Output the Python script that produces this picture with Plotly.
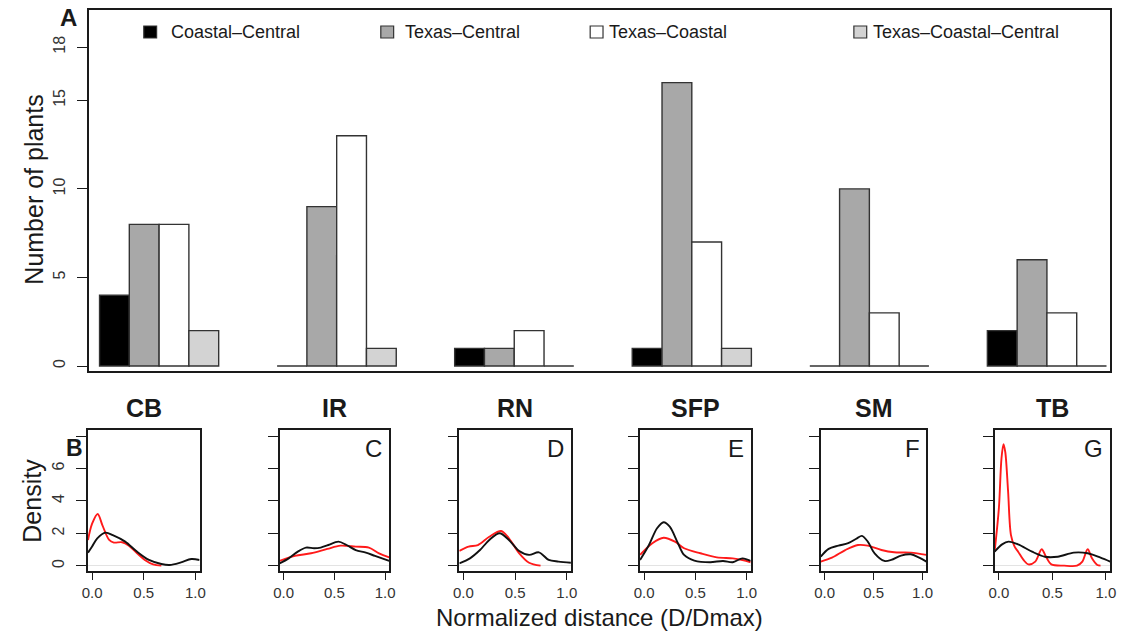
import plotly.graph_objects as go

W, H = 1129, 632
FONT = "Liberation Sans, Arial, sans-serif"
INK = "#1a1a1a"

# ---------------- data ----------------
SITES = ["CB", "IR", "RN", "SFP", "SM", "TB"]
PANEL_LETTERS = ["B", "C", "D", "E", "F", "G"]
SERIES = ["Coastal–Central", "Texas–Central", "Texas–Coastal", "Texas–Coastal–Central"]
SERIES_COLORS = ["#000000", "#a8a8a8", "#ffffff", "#d3d3d3"]

COASTAL_CENTRAL = [4, 0, 1, 1, 0, 2]
TEXAS_CENTRAL = [8, 9, 1, 16, 10, 6]
TEXAS_COASTAL = [8, 13, 2, 7, 3, 3]
TEXAS_COASTAL_CENTRAL = [2, 1, 0, 1, 0, 0]

TOP_Y_TICKS = [0, 5, 10, 15, 18]
DENS_Y_TICKS = [0, 2, 4, 6, 8]
DENS_Y_LABELS = ["0", "2", "4", "6", ""]
DENS_X_TICKS = [0, 0.5, 1.0]
DENS_X_LABELS = ["0.0", "0.5", "1.0"]

# density curves (black = all, red = subset)
CB_BLACK_X = [-0.04, 0.0, 0.05, 0.13, 0.2, 0.32, 0.43, 0.55, 0.67, 0.75, 0.86, 0.96, 1.04]
CB_BLACK_Y = [0.82, 1.2, 1.7, 2.05, 1.9, 1.5, 0.9, 0.37, 0.12, 0.06, 0.22, 0.43, 0.37]
CB_RED_X = [-0.04, 0.0, 0.054, 0.1, 0.165, 0.21, 0.29, 0.356, 0.435, 0.51, 0.59, 0.67]
CB_RED_Y = [1.6, 2.6, 3.2, 2.5, 1.6, 1.44, 1.46, 1.25, 0.78, 0.37, 0.1, 0.02]

IR_BLACK_X = [-0.04, 0.05, 0.14, 0.22, 0.3, 0.365, 0.44, 0.54, 0.62, 0.71, 0.81, 0.9, 1.04]
IR_BLACK_Y = [0.16, 0.47, 0.88, 1.13, 1.09, 1.13, 1.29, 1.5, 1.29, 0.98, 0.82, 0.62, 0.31]
IR_RED_X = [-0.04, 0.11, 0.27, 0.43, 0.56, 0.71, 0.84, 0.94, 1.04]
IR_RED_Y = [0.31, 0.62, 0.78, 1.05, 1.25, 1.19, 1.13, 0.78, 0.53]

RN_BLACK_X = [-0.04, 0.063, 0.16, 0.25, 0.35, 0.44, 0.54, 0.635, 0.73, 0.825, 0.92, 1.04]
RN_BLACK_Y = [0.16, 0.47, 0.98, 1.6, 2.01, 1.6, 0.92, 0.68, 0.84, 0.37, 0.27, 0.2]
RN_RED_X = [-0.04, 0.05, 0.14, 0.25, 0.365, 0.44, 0.54, 0.635, 0.746]
RN_RED_Y = [0.92, 1.19, 1.29, 1.8, 2.15, 1.7, 0.78, 0.2, 0.02]

SFP_BLACK_X = [-0.04, 0.047, 0.126, 0.19, 0.25, 0.33, 0.39, 0.49, 0.645, 0.77, 0.865, 0.96, 1.04]
SFP_BLACK_Y = [0.37, 1.29, 2.32, 2.69, 2.42, 1.4, 0.68, 0.33, 0.23, 0.31, 0.23, 0.47, 0.31]
SFP_RED_X = [-0.04, 0.08, 0.19, 0.3, 0.39, 0.55, 0.71, 0.865, 0.96, 1.04]
SFP_RED_Y = [0.68, 1.4, 1.74, 1.5, 1.09, 0.78, 0.53, 0.47, 0.37, 0.23]

SM_BLACK_X = [-0.04, 0.04, 0.14, 0.24, 0.33, 0.38, 0.44, 0.51, 0.61, 0.68, 0.78, 0.88, 0.966, 1.04]
SM_BLACK_Y = [0.57, 1.05, 1.25, 1.4, 1.7, 1.85, 1.5, 0.78, 0.31, 0.37, 0.64, 0.72, 0.51, 0.27]
SM_RED_X = [-0.04, 0.074, 0.21, 0.34, 0.44, 0.58, 0.71, 0.88, 1.04]
SM_RED_Y = [0.27, 0.51, 0.98, 1.29, 1.25, 0.98, 0.84, 0.82, 0.68]

TB_BLACK_X = [-0.04, 0.03, 0.09, 0.18, 0.31, 0.43, 0.55, 0.7, 0.83, 0.95, 1.04]
TB_BLACK_Y = [0.88, 1.33, 1.5, 1.33, 0.88, 0.57, 0.57, 0.82, 0.78, 0.51, 0.27]
TB_RED_X = [-0.04, 0.0, 0.024, 0.043, 0.06, 0.086, 0.113, 0.147, 0.18, 0.23, 0.275,
            0.34, 0.4, 0.44, 0.49, 0.61, 0.73, 0.78, 0.83, 0.87, 0.92, 0.95]
TB_RED_Y = [0.88, 3.55, 6.6, 7.5, 7.0, 4.6, 1.9, 1.19, 0.88, 0.37, 0.1,
            0.27, 1.03, 0.57, 0.1, 0.02, 0.02, 0.27, 1.03, 0.47, 0.06, 0.02]

BLACK_CURVES = [(CB_BLACK_X, CB_BLACK_Y), (IR_BLACK_X, IR_BLACK_Y), (RN_BLACK_X, RN_BLACK_Y),
                (SFP_BLACK_X, SFP_BLACK_Y), (SM_BLACK_X, SM_BLACK_Y), (TB_BLACK_X, TB_BLACK_Y)]
RED_CURVES = [(CB_RED_X, CB_RED_Y), (IR_RED_X, IR_RED_Y), (RN_RED_X, RN_RED_Y),
              (SFP_RED_X, SFP_RED_Y), (SM_RED_X, SM_RED_Y), (TB_RED_X, TB_RED_Y)]

# ---------------- layout helpers (pixel -> paper) ----------------
def px(x):
    return x / W


def py(y):
    return 1 - y / H


TOP_BOX = (83, 10, 1117, 371)  # left, top, right, bottom (px)
PANEL_BOXES = [(82, 195), (276, 387), (458, 571), (641, 753), (824, 931), (1000, 1117)]
PANEL_TOP, PANEL_BOTTOM = 430, 571

fig = go.Figure()

bar_values = [COASTAL_CENTRAL, TEXAS_CENTRAL, TEXAS_COASTAL, TEXAS_COASTAL_CENTRAL]
for name, vals, col in zip(SERIES, bar_values, SERIES_COLORS):
    fig.add_trace(go.Bar(
        x=SITES, y=vals, name=name, xaxis="x", yaxis="y",
        marker=dict(color=col, line=dict(color="#333333", width=1.4)),
        showlegend=False, hoverinfo="x+y+name",
    ))

axis_common = dict(showline=True, mirror=True, linecolor=INK, linewidth=1.5,
                   showgrid=False, zeroline=False)

layout = dict(
    width=W, height=H, autosize=False,
    margin=dict(l=0, r=0, t=0, b=0),
    paper_bgcolor="white", plot_bgcolor="white",
    barmode="group", bargap=0.329, bargroupgap=0,
    font=dict(family=FONT, color=INK),
    showlegend=False,
    xaxis=dict(domain=[px(TOP_BOX[0]), px(TOP_BOX[2])], anchor="y", type="category",
               range=[-0.395, 5.356], showticklabels=False, ticks="", **axis_common),
    yaxis=dict(domain=[py(TOP_BOX[3]), py(TOP_BOX[1])], anchor="x",
               range=[-0.28, 20.1], tickvals=TOP_Y_TICKS, ticks="outside", ticklen=10,
               tickwidth=1.3, tickcolor=INK, tickangle=-90,
               tickfont=dict(size=16, color="#333333"), ticklabelstandoff=6,
               **axis_common),
)

for i, site in enumerate(SITES):
    k = i + 2
    xl, xr = PANEL_BOXES[i]
    layout[f"xaxis{k}"] = dict(
        domain=[px(xl), px(xr)], anchor=f"y{k}", range=[-0.04, 1.04],
        tickvals=DENS_X_TICKS, ticktext=DENS_X_LABELS, ticks="outside", ticklen=7,
        tickwidth=1.3, tickcolor=INK, tickfont=dict(size=15, color="#333333"),
        **axis_common)
    layout[f"yaxis{k}"] = dict(
        domain=[py(PANEL_BOTTOM), py(PANEL_TOP)], anchor=f"x{k}", range=[-0.31, 8.37],
        tickvals=DENS_Y_TICKS, ticktext=DENS_Y_LABELS, ticks="outside", ticklen=10,
        tickwidth=1.3, tickcolor=INK, tickangle=-90, showticklabels=(i == 0),
        tickfont=dict(size=16, color="#333333"), ticklabelstandoff=6,
        showline=True, mirror=True, linecolor=INK, linewidth=1.5, showgrid=False,
        zeroline=True, zerolinecolor="#e3e3e3", zerolinewidth=1.2)
    bx, by = RED_CURVES[i]
    fig.add_trace(go.Scatter(x=bx, y=by, mode="lines", xaxis=f"x{k}", yaxis=f"y{k}",
                             line=dict(color="#ff1a1a", width=1.9, shape="spline", smoothing=0.9),
                             showlegend=False, name=f"{site} subset"))
    kx, ky = BLACK_CURVES[i]
    fig.add_trace(go.Scatter(x=kx, y=ky, mode="lines", xaxis=f"x{k}", yaxis=f"y{k}",
                             line=dict(color="#111111", width=1.9, shape="spline", smoothing=0.9),
                             showlegend=False, name=f"{site} all"))

fig.update_layout(**layout)

annotations = []
shapes = []

# manual legend (inside top panel)
LEG_SQ = [145, 385, 597, 864]
LEG_TX = [164, 401, 608, 875]
for name, col, sq, tx in zip(SERIES, SERIES_COLORS, LEG_SQ, LEG_TX):
    shapes.append(dict(type="rect", xref="paper", yref="paper",
                       x0=px(sq - 6.5), x1=px(sq + 6.5), y0=py(38), y1=py(26),
                       fillcolor=col, line=dict(color="#333333", width=1.2)))
    annotations.append(dict(text=name, xref="paper", yref="paper", x=px(tx), y=py(32),
                            xanchor="left", yanchor="middle", showarrow=False,
                            font=dict(size=18, color=INK)))

# panel letter A
annotations.append(dict(text="<b>A</b>", xref="paper", yref="paper", x=px(62), y=py(17),
                        xanchor="center", yanchor="middle", showarrow=False,
                        font=dict(size=24, color=INK)))

# axis titles
annotations.append(dict(text="Number of plants", xref="paper", yref="paper", x=px(27), y=py(190),
                        textangle=-90, xanchor="center", yanchor="middle", showarrow=False,
                        font=dict(size=25, color=INK)))
annotations.append(dict(text="Density", xref="paper", yref="paper", x=px(25), y=py(501),
                        textangle=-90, xanchor="center", yanchor="middle", showarrow=False,
                        font=dict(size=25, color=INK)))
annotations.append(dict(text="Normalized distance (D/Dmax)", xref="paper", yref="paper",
                        x=px(600), y=py(617), xanchor="center", yanchor="middle",
                        showarrow=False, font=dict(size=24, color=INK)))

for i, site in enumerate(SITES):
    xl, xr = PANEL_BOXES[i]
    annotations.append(dict(text=f"<b>{site}</b>", xref="paper", yref="paper",
                            x=px((xl + xr) / 2), y=py(408), xanchor="center", yanchor="middle",
                            showarrow=False, font=dict(size=25, color=INK)))
    if i == 0:
        annotations.append(dict(text=f"<b>{PANEL_LETTERS[i]}</b>", xref="paper", yref="paper",
                                x=px(68), y=py(448), xanchor="center", yanchor="middle",
                                showarrow=False, font=dict(size=23, color=INK)))
    else:
        annotations.append(dict(text=PANEL_LETTERS[i], xref="paper", yref="paper",
                                x=px(xr - 5), y=py(448), xanchor="right", yanchor="middle",
                                showarrow=False, font=dict(size=24, color=INK)))

fig.update_layout(annotations=annotations, shapes=shapes)
fig.write_html("out.html")
